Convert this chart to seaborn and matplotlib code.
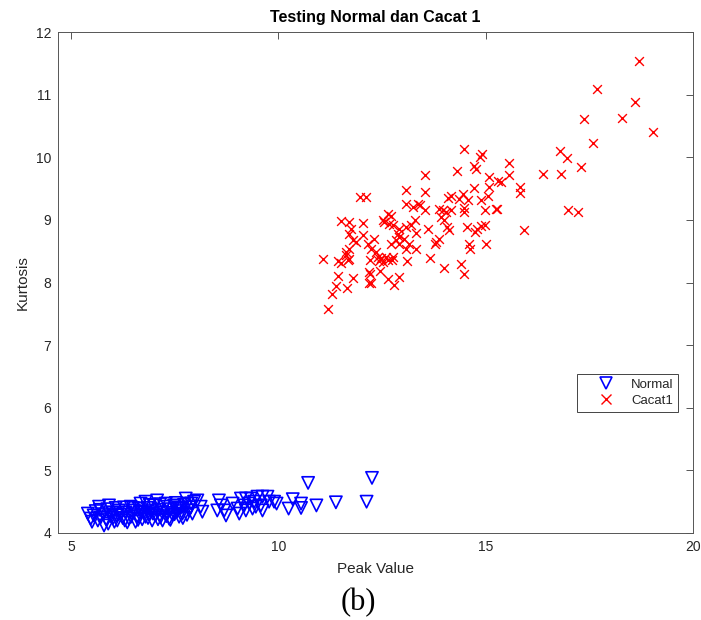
import matplotlib
matplotlib.use("Agg")
import matplotlib.pyplot as plt
from matplotlib.lines import Line2D
import seaborn as sns
import pandas as pd

# ---- data ----
normal_x = [5.41, 5.48, 5.51, 5.55, 5.60, 5.68, 5.72, 5.78, 5.80, 5.85, 5.88, 5.92, 5.95, 6.00,
            6.05, 6.08, 6.12, 6.16, 6.20, 6.25, 6.28, 6.32, 6.36, 6.40, 6.44, 6.48, 6.52, 6.56,
            6.60, 6.64, 6.68, 6.72, 6.76, 6.80, 6.80, 6.84, 6.88, 6.92, 6.96, 7.00, 7.04, 7.08,
            7.12, 7.16, 7.21, 7.25, 7.29, 7.33, 7.37, 7.41, 7.45, 7.49, 7.53, 7.57, 7.61, 7.65,
            7.69, 7.73, 7.77, 7.81, 7.85, 7.89, 7.93, 7.97, 8.05, 8.13, 8.17,
            5.65, 5.90, 6.02, 6.14, 6.30, 6.45, 6.62, 6.70, 6.86, 6.98, 7.10, 7.20, 7.30, 7.40,
            7.50, 7.60, 7.70, 7.80, 7.90, 5.70, 6.10, 6.50, 6.90, 7.15, 7.55,
            8.53, 8.57, 8.62, 8.70, 8.74, 8.90, 9.02, 9.06, 9.10, 9.22, 9.34, 9.18, 9.30, 9.42,
            9.22, 9.38, 9.50, 9.62, 9.74, 9.58, 9.62, 9.46, 9.90,
            9.78, 9.96, 10.25, 10.35, 10.55, 10.55, 10.92, 11.39, 10.72, 12.26, 12.13]
normal_y = [4.31, 4.23, 4.18, 4.28, 4.35, 4.42, 4.25, 4.30, 4.12, 4.22, 4.38, 4.44, 4.27, 4.33,
            4.18, 4.40, 4.20, 4.36, 4.29, 4.24, 4.41, 4.33, 4.17, 4.23, 4.42, 4.30, 4.36, 4.18,
            4.27, 4.39, 4.47, 4.22, 4.33, 4.50, 4.26, 4.40, 4.30, 4.35, 4.20, 4.44, 4.28, 4.52,
            4.37, 4.25, 4.20, 4.42, 4.47, 4.32, 4.23, 4.38, 4.29, 4.44, 4.48, 4.35, 4.26, 4.40,
            4.31, 4.45, 4.55, 4.47, 4.36, 4.41, 4.31, 4.50, 4.52, 4.42, 4.34,
            4.20, 4.15, 4.24, 4.30, 4.20, 4.26, 4.21, 4.34, 4.24, 4.31, 4.22, 4.33, 4.27, 4.21,
            4.30, 4.41, 4.24, 4.29, 4.47, 4.37, 4.28, 4.40, 4.45, 4.46, 4.39,
            4.36, 4.52, 4.44, 4.36, 4.28, 4.47, 4.39, 4.31, 4.55, 4.55, 4.55, 4.44, 4.47, 4.50,
            4.36, 4.39, 4.58, 4.58, 4.58, 4.44, 4.36, 4.42, 4.50,
            4.50, 4.47, 4.39, 4.54, 4.47, 4.40, 4.44, 4.49, 4.80, 4.88, 4.50]

cacat_x = [18.69, 17.69, 18.61, 17.37, 18.29, 19.03, 17.59, 16.79, 16.97, 17.30, 15.56, 15.56,
           15.37, 16.38, 16.82, 15.82, 15.84, 15.27, 16.98, 17.23, 15.93,
           14.48, 14.92, 14.86, 14.72, 14.76, 13.54, 14.30, 15.07, 15.31, 15.07, 14.73, 13.07,
           13.54, 15.06, 14.90, 11.96, 12.12, 14.17, 14.09, 14.46, 14.37, 14.57, 13.07, 13.24,
           13.36, 13.41, 13.53, 13.87, 13.97, 14.05, 14.17, 14.47, 14.48, 14.98, 15.26, 13.93,
           13.99, 12.64, 12.72, 12.52, 12.56, 12.68, 12.76, 13.29, 13.21, 13.08, 12.92, 11.51,
           11.71, 12.04, 11.76, 11.71, 13.61, 14.07, 14.11, 14.56, 14.79, 14.98, 14.90, 14.75,
           13.33, 12.04, 11.81, 11.88, 12.32, 12.16, 12.88, 12.92, 12.84, 12.92, 13.04, 13.16,
           12.72, 13.81, 13.87, 13.77, 11.71, 11.64, 11.64, 12.24, 12.36, 12.40, 12.48, 12.60,
           12.52, 12.64, 13.08, 13.33, 12.76, 12.75, 14.61, 14.63, 15.00, 11.07, 11.43, 11.51,
           11.67, 11.71, 12.21, 12.44, 13.11, 13.67, 13.99, 14.41, 14.48, 12.20, 12.21, 12.46,
           11.43, 11.81, 12.64, 12.90, 12.80, 12.20, 12.24, 11.39, 11.66, 11.30, 11.20]
cacat_y = [11.54, 11.09, 10.88, 10.61, 10.62, 10.40, 10.23, 10.10, 9.99, 9.85, 9.91, 9.72,
           9.61, 9.74, 9.74, 9.52, 9.43, 9.17, 9.16, 9.12, 8.84,
           10.13, 10.05, 10.00, 9.86, 9.82, 9.72, 9.78, 9.69, 9.62, 9.53, 9.51, 9.48,
           9.44, 9.38, 9.31, 9.36, 9.37, 9.38, 9.35, 9.41, 9.33, 9.32, 9.25, 9.21,
           9.26, 9.24, 9.16, 9.17, 9.15, 9.13, 9.16, 9.19, 9.12, 9.16, 9.17, 9.05,
           9.00, 9.10, 9.06, 9.00, 8.96, 8.94, 8.92, 9.00, 8.92, 8.89, 8.86, 8.98,
           8.97, 8.95, 8.85, 8.78, 8.85, 8.89, 8.84, 8.88, 8.86, 8.92, 8.91, 8.81,
           8.79, 8.76, 8.68, 8.65, 8.69, 8.62, 8.78, 8.73, 8.68, 8.62, 8.70, 8.62,
           8.62, 8.65, 8.70, 8.62, 8.54, 8.49, 8.44, 8.54, 8.49, 8.41, 8.39, 8.41,
           8.33, 8.36, 8.54, 8.53, 8.41, 8.36, 8.61, 8.54, 8.61, 8.38, 8.35, 8.31,
           8.36, 8.38, 8.36, 8.35, 8.35, 8.39, 8.23, 8.29, 8.13, 8.17, 8.13, 8.18,
           8.11, 8.07, 8.05, 8.09, 7.96, 8.00, 7.99, 7.94, 7.91, 7.81, 7.57]

class_labels = ["Normal", "Cacat1"]
x_ticks = [5, 10, 15, 20]
y_ticks = [4, 5, 6, 7, 8, 9, 10, 11, 12]

df_normal = pd.DataFrame({"Peak Value": normal_x, "Kurtosis": normal_y})
df_cacat = pd.DataFrame({"Peak Value": cacat_x, "Kurtosis": cacat_y})

sns.set_style("white")
plt.rcParams["font.family"] = ["Liberation Sans", "DejaVu Sans"]

fig = plt.figure(figsize=(7.01, 6.20), dpi=100)
ax = fig.add_axes([58 / 701, 1 - 533 / 620, 635 / 701, 501 / 620])

sns.scatterplot(data=df_normal, x="Peak Value", y="Kurtosis", ax=ax, marker="v",
                s=78, color="#0000ff", linewidth=1.2, legend=False)
ax.collections[-1].set_facecolor("none")
ax.collections[-1].set_edgecolor("#0000ff")
sns.scatterplot(data=df_cacat, x="Peak Value", y="Kurtosis", ax=ax, marker="x",
                s=40, color="#ff0000", linewidth=1.0, legend=False)

ax.set_xlim(4.69, 20)
ax.set_ylim(4, 12)
ax.set_xticks(x_ticks)
ax.set_yticks(y_ticks)

edge = "#262626"
for sp in ax.spines.values():
    sp.set_visible(True)
    sp.set_color("#555555")
    sp.set_linewidth(0.7)
ax.tick_params(direction="in", top=True, right=True, length=5, width=0.7,
               color="#555555", labelsize=10, labelcolor=edge, pad=5)

ax.set_xlabel("Peak Value", fontsize=11, color=edge, labelpad=6)
ax.set_ylabel("Kurtosis", fontsize=11, color=edge, labelpad=4)
ax.set_title("Testing Normal dan Cacat 1", fontsize=11.5, fontweight="bold",
             color="black", pad=7)

handles = [
    Line2D([], [], marker="v", ls="none", mfc="none", mec="#0000ff", mew=1.2, ms=9),
    Line2D([], [], marker="x", ls="none", mec="#ff0000", mew=1.0, ms=6.5),
]
leg = ax.legend(handles, class_labels, loc="upper left",
                bbox_to_anchor=((577 - 58) / 635, (533 - 374) / 501),
                frameon=True, fancybox=False, shadow=False, framealpha=1,
                edgecolor="#444444", fontsize=9.5, borderpad=0.35,
                labelspacing=0.3, handlelength=3.7, handletextpad=0.05,
                borderaxespad=0)
leg.get_frame().set_linewidth(0.7)

fig.text(358 / 701, 1 - 603 / 620, "(b)", ha="center", va="center",
         fontsize=22, family=["Liberation Serif", "DejaVu Serif"], color="black")

fig.savefig("out.png", dpi=100, facecolor="white")
